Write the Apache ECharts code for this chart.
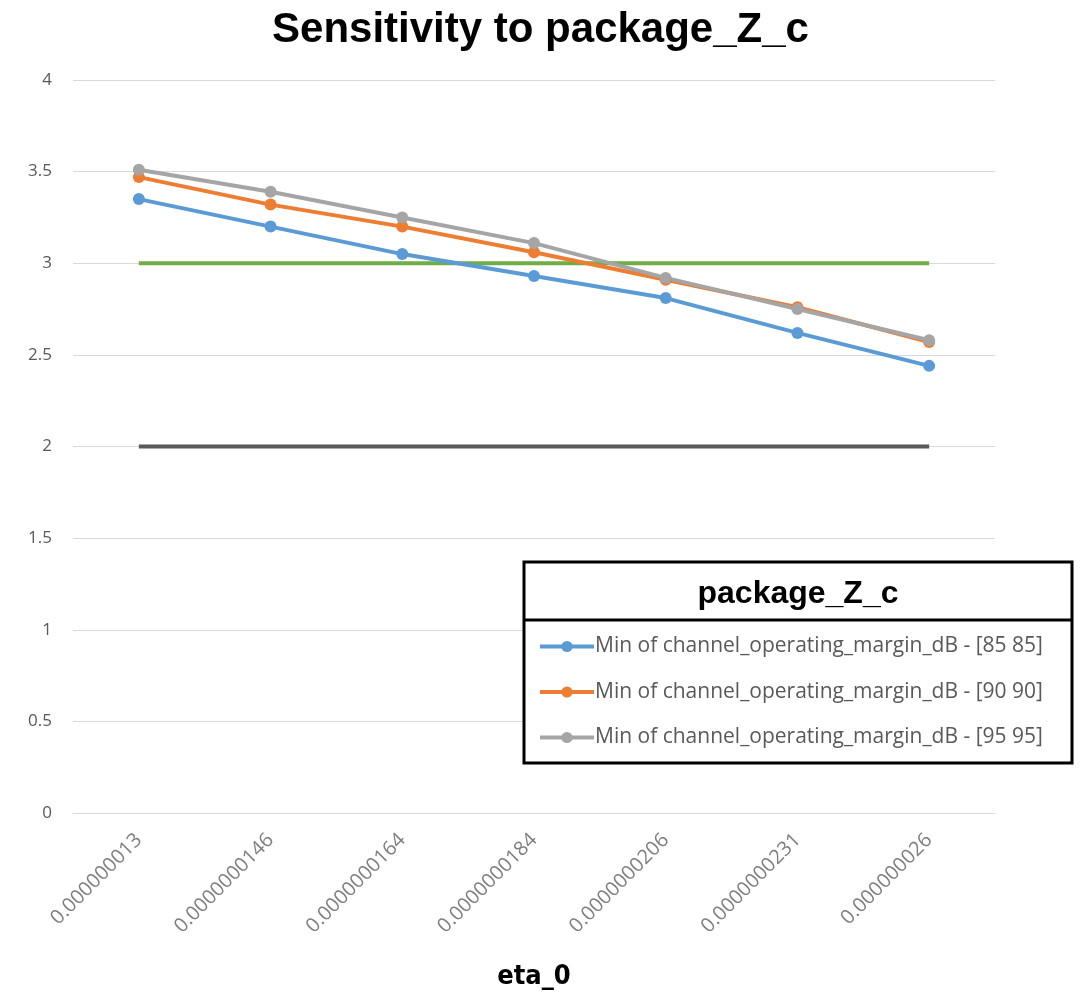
<!DOCTYPE html>
<html>
<head>
<meta charset="utf-8">
<script src="https://cdn.jsdelivr.net/npm/echarts@6/dist/echarts.min.js"></script>
<style>html,body{margin:0;padding:0;background:#fff}#c{width:1081px;height:994px}</style>
</head>
<body>
<div id="c"></div>
<script>
const categories = ['0.000000013','0.0000000146','0.0000000164','0.0000000184','0.0000000206','0.0000000231','0.000000026'];
const series85 = [3.35, 3.20, 3.05, 2.93, 2.81, 2.62, 2.44];
const series90 = [3.47, 3.32, 3.20, 3.06, 2.91, 2.76, 2.57];
const series95 = [3.51, 3.39, 3.25, 3.11, 2.92, 2.75, 2.58];
const limit3 = [3, 3, 3, 3, 3, 3, 3];
const limit2 = [2, 2, 2, 2, 2, 2, 2];
const names = ['Min of channel_operating_margin_dB - [85 85]','Min of channel_operating_margin_dB - [90 90]','Min of channel_operating_margin_dB - [95 95]'];
const yTicks = ['0','0.5','1','1.5','2','2.5','3','3.5','4'];

const chart = echarts.init(document.getElementById('c'));
const lineSeries = (name, data, color, marker) => ({
  name, type: 'line', data,
  symbol: marker ? 'circle' : 'none', symbolSize: 12,
  lineStyle: {color, width: 4}, itemStyle: {color},
  z: marker ? 3 : 2, animation: false
});
chart.setOption({
  animation: false,
  title: {text: 'Sensitivity to package_Z_c', left: 'center', top: 4,
    textStyle: {fontFamily: 'Liberation Sans', fontWeight: 'bold', fontSize: 42, color: '#000'}},
  grid: {left: 73, right: 86, top: 80, bottom: 181, outerBoundsMode: 'none', containLabel: false},
  xAxis: {type: 'category', data: categories, boundaryGap: true,
    name: 'eta_0', nameLocation: 'middle', nameGap: 150,
    nameTextStyle: {fontFamily: '"DejaVu Sans Condensed", "Liberation Sans"', fontWeight: 'bold', fontSize: 27, color: '#000'},
    axisLine: {lineStyle: {color: '#d9d9d9', width: 1}}, axisTick: {show: false},
    axisLabel: {rotate: 45, margin: 24, fontFamily: 'Open Sans', fontSize: 20, color: '#7f7f7f'}},
  yAxis: {type: 'value', min: 0, max: 4, interval: 0.5,
    axisLine: {show: false}, axisTick: {show: false},
    splitLine: {lineStyle: {color: '#d9d9d9', width: 1}},
    axisLabel: {margin: 21, fontFamily: 'Open Sans', fontSize: 17, color: '#595959',
      formatter: v => yTicks[Math.round(v * 2)]}},
  legend: {data: names, orient: 'vertical', left: 538, top: 636, padding: 0,
    itemWidth: 54, itemHeight: 14, itemGap: 24.5, z: 60,
    lineStyle: {width: 4},
    textStyle: {fontFamily: 'Open Sans', fontSize: 21, lineHeight: 16, color: '#595959', padding: [0,0,0,-4]}},
  graphic: [
    {type: 'rect', shape: {x: 524, y: 562, width: 548, height: 201}, style: {fill: '#fff', stroke: '#000', lineWidth: 3}, z: 50},
    {type: 'line', shape: {x1: 524, y1: 620, x2: 1072, y2: 620}, style: {stroke: '#000', lineWidth: 3}, z: 51},
    {type: 'text', x: 798, y: 594, style: {text: 'package_Z_c', fontFamily: 'Liberation Sans', fontWeight: 'bold', fontSize: 32, fill: '#000', align: 'center', verticalAlign: 'middle'}, z: 51}
  ],
  series: [
    lineSeries('limit3', limit3, '#70AD47', false),
    lineSeries('limit2', limit2, '#595959', false),
    lineSeries(names[0], series85, '#5B9BD5', true),
    lineSeries(names[1], series90, '#ED7D31', true),
    lineSeries(names[2], series95, '#A5A5A5', true)
  ]
});
</script>
</body>
</html>
